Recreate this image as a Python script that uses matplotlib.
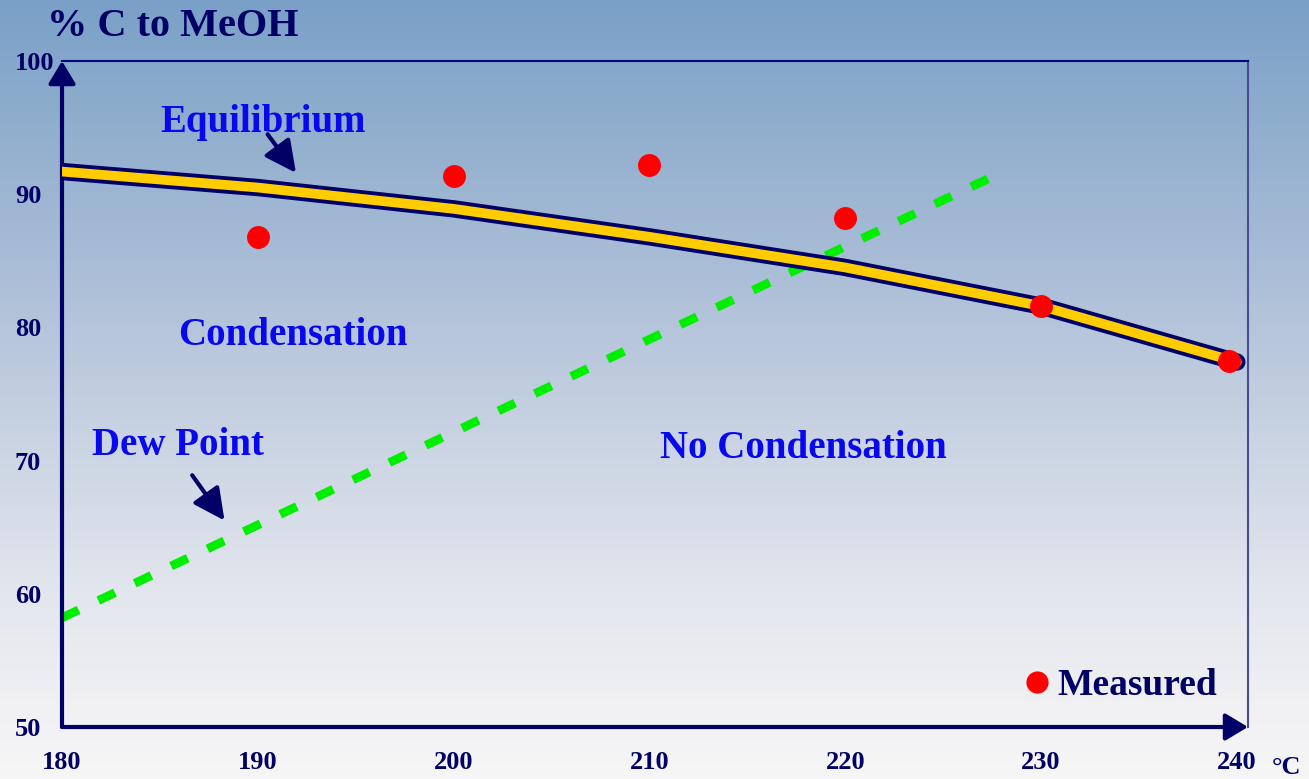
import numpy as np
import matplotlib.pyplot as plt
from matplotlib.colors import LinearSegmentedColormap

plt.rcParams['font.family'] = 'Liberation Serif'
plt.rcParams['font.weight'] = 'bold'

# data
eq_temp = [180, 190, 200, 210, 220, 230, 240]
eq_conv = [91.7, 90.5, 88.9, 86.8, 84.5, 81.6, 77.4]

dew_temp = [180, 227.5]
dew_conv = [58.2, 91.3]

meas_temp = [190, 200, 210, 220, 230, 239.6]
meas_conv = [86.8, 91.4, 92.2, 88.2, 81.6, 77.5]

x_ticks = [180, 190, 200, 210, 220, 230, 240]
y_ticks = [50, 60, 70, 80, 90, 100]

navy = '#000066'
blue = '#0808ee'

fig = plt.figure(figsize=(13.09, 7.79), dpi=100)

# gradient background
bg = fig.add_axes([0, 0, 1, 1], zorder=-1)
cmap = LinearSegmentedColormap.from_list('bg', [
    (0.0, (122/255, 160/255, 200/255)),
    (0.13, (140/255, 172/255, 204/255)),
    (0.33, (168/255, 188/255, 214/255)),
    (0.55, (200/255, 210/255, 226/255)),
    (0.75, (225/255, 229/255, 237/255)),
    (0.9, (240/255, 240/255, 243/255)),
    (1.0, (246/255, 246/255, 247/255)),
])
bg.imshow(np.linspace(0, 1, 256).reshape(-1, 1), aspect='auto', cmap=cmap,
          extent=[0, 1, 0, 1])
bg.axis('off')

ax = fig.add_axes([62/1309, 1 - 727/779, (1248-62)/1309, (727-61)/779])
ax.patch.set_alpha(0)
ax.set_xlim(180, 240.57)
ax.set_ylim(50, 100)

# dew point line
ax.plot(dew_temp, dew_conv, color='#00ee00', lw=6.3, dashes=(2.1, 2.5),
        solid_capstyle='butt', dash_capstyle='butt', zorder=2)

# equilibrium curve (navy outline + yellow core)
ax.plot(eq_temp, eq_conv, color=navy, lw=12.5, solid_capstyle='round',
        solid_joinstyle='round', zorder=3)
ax.plot(eq_temp, eq_conv, color='#ffcc00', lw=7, solid_capstyle='round',
        solid_joinstyle='round', zorder=4)

# measured points
ax.plot(meas_temp, meas_conv, 'o', color='#ff0000', ms=16.5, mec='none',
        zorder=5, clip_on=False)

# spines
for s in ['left', 'bottom']:
    ax.spines[s].set_visible(False)
ax.spines['top'].set_color('#000080')
ax.spines['top'].set_linewidth(1.5)
ax.spines['right'].set_color('#4a4a9a')
ax.spines['right'].set_linewidth(1.5)

arrow_axis = dict(arrowstyle='-|>,head_length=0.55,head_width=0.33',
                  lw=3, color=navy, mutation_scale=25, shrinkA=0, shrinkB=0)
ax.annotate('', xy=(0, 1), xytext=(0, 0), xycoords='axes fraction',
            arrowprops=arrow_axis, annotation_clip=False)
ax.annotate('', xy=(1, 0), xytext=(0, 0), xycoords='axes fraction',
            arrowprops=arrow_axis, annotation_clip=False)

# ticks
ax.set_xticks(x_ticks)
ax.set_xticklabels([str(t) for t in x_ticks])
ax.set_yticks(y_ticks)
ax.set_yticklabels([str(t) for t in y_ticks])
ax.tick_params(length=0, labelsize=19, labelcolor=navy)
ax.tick_params(axis='x', pad=17)
ax.tick_params(axis='y', pad=34)
for lab in ax.get_yticklabels():
    lab.set_horizontalalignment('left')

# labels on the slide
fig.text(47/1309, 1 - 36/779, '% C to MeOH', fontsize=29, color=navy,
         va='baseline')
fig.text(1272/1309, 1 - 774/779, '°C', fontsize=19, color=navy,
         va='baseline')

txt = dict(fontsize=28, color=blue, va='baseline')
ax.text(185.0, 94.67, 'Equilibrium', **txt)
ax.text(185.92, 78.68, 'Condensation', **txt)
ax.text(181.53, 70.42, 'Dew Point', **txt)
ax.text(210.54, 70.2, 'No Condensation', **txt)
ax.text(230.82, 52.4, 'Measured', fontsize=27, color=navy, va='baseline')
ax.plot([229.8], [53.4], 'o', color='#ff0000', ms=16, mec='none')

arrow_lbl = dict(arrowstyle='-|>,head_length=0.6,head_width=0.3', lw=3,
                 color=navy, mutation_scale=32, shrinkA=0, shrinkB=0)
ax.annotate('', xy=(191.95, 91.6), xytext=(190.5, 94.5), arrowprops=arrow_lbl)
ax.annotate('', xy=(188.3, 65.5), xytext=(186.65, 68.9), arrowprops=arrow_lbl)

fig.savefig('out.png', dpi=100)
